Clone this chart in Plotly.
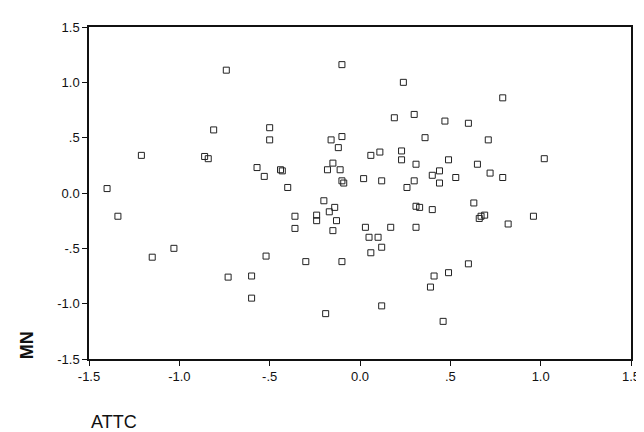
import plotly.graph_objects as go

# ATTC (x) and MN (y) values
attc = [-1.40, -1.34, -1.21, -0.86, -0.84, -0.81, -0.74, -1.15, -1.03, -0.73,
        -0.60, -0.60, -0.57, -0.53, -0.44, -0.43, -0.40, -0.50, -0.50, -0.52,
        -0.36, -0.36, -0.30, -0.20, -0.14, -0.17, -0.24, -0.24, -0.13, -0.15,
        -0.10, -0.19, -0.10, -0.16, -0.10, -0.12, -0.18, -0.15, -0.11, -0.10,
        -0.09, 0.03, 0.05, 0.10, 0.12, 0.06, 0.17, 0.12, 0.02, 0.12,
        0.06, 0.11, 0.23, 0.23, 0.19, 0.30, 0.24, 0.36, 0.31, 0.26,
        0.30, 0.31, 0.33, 0.40, 0.31, 0.40, 0.44, 0.44, 0.49, 0.47,
        0.53, 0.60, 0.71, 0.65, 0.72, 0.79, 0.79, 1.02, 0.63, 0.66,
        0.67, 0.69, 0.82, 0.96, 0.60, 0.49, 0.41, 0.39, 0.46]
mn = [0.04, -0.21, 0.34, 0.33, 0.31, 0.57, 1.11, -0.58, -0.50, -0.76,
      -0.75, -0.95, 0.23, 0.15, 0.21, 0.20, 0.05, 0.59, 0.48, -0.57,
      -0.21, -0.32, -0.62, -0.07, -0.13, -0.17, -0.20, -0.25, -0.25, -0.34,
      -0.62, -1.09, 1.16, 0.48, 0.51, 0.41, 0.21, 0.27, 0.21, 0.11,
      0.09, -0.31, -0.40, -0.40, -0.49, -0.54, -0.31, -1.02, 0.13, 0.11,
      0.34, 0.37, 0.38, 0.30, 0.68, 0.71, 1.00, 0.50, 0.26, 0.05,
      0.11, -0.12, -0.13, -0.15, -0.31, 0.16, 0.20, 0.09, 0.30, 0.65,
      0.14, 0.63, 0.48, 0.26, 0.18, 0.14, 0.86, 0.31, -0.09, -0.23,
      -0.21, -0.20, -0.28, -0.21, -0.64, -0.72, -0.75, -0.85, -1.16]

tick_vals = [-1.5, -1.0, -0.5, 0.0, 0.5, 1.0, 1.5]
tick_text = ["-1.5", "-1.0", "-.5", "0.0", ".5", "1.0", "1.5"]

FONT = "Liberation Sans, Arial, sans-serif"

fig = go.Figure()
fig.add_trace(go.Scatter(
    x=attc, y=mn, mode="markers",
    marker=dict(symbol="square-open", size=6, color="#222222",
                line=dict(width=1, color="#222222")),
    showlegend=False, hoverinfo="x+y"))

axis_common = dict(
    range=[-1.5, 1.5], tickmode="array", tickvals=tick_vals, ticktext=tick_text,
    showgrid=False, zeroline=False, showline=True, linecolor="#111111",
    linewidth=1.5, mirror=True, ticks="outside", ticklen=5, tickcolor="#111111",
    tickfont=dict(family=FONT, size=13, color="#111111"),
)

fig.update_layout(
    width=644, height=432,
    margin=dict(l=81, r=12, t=15, b=81),
    paper_bgcolor="white", plot_bgcolor="white",
    xaxis=axis_common,
    yaxis=axis_common,
    annotations=[
        dict(text="ATTC", xref="paper", yref="paper", x=0.0, y=-0.19,
             xanchor="left", yanchor="middle", showarrow=False,
             font=dict(family=FONT, size=18, color="#111111")),
        dict(text="<b>MN</b>", xref="paper", yref="paper", x=-0.114, y=0.042,
             xanchor="center", yanchor="middle", textangle=-90, showarrow=False,
             font=dict(family=FONT, size=18, color="#111111")),
    ],
)

fig.write_html("out.html")
